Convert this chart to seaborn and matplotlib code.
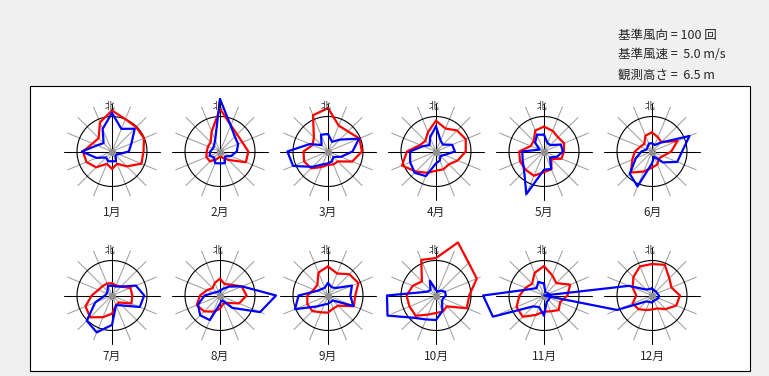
import numpy as np
import pandas as pd
import matplotlib
matplotlib.use("Agg")
import matplotlib.pyplot as plt
from matplotlib.patches import Rectangle
import seaborn as sns

sns.set_theme(style="white")
plt.rcParams['font.family'] = ['Noto Sans CJK JP', 'DejaVu Sans']

months = ["1月", "2月", "3月", "4月", "5月", "6月",
          "7月", "8月", "9月", "10月", "11月", "12月"]
directions = ["N", "NNE", "NE", "ENE", "E", "ESE", "SE", "SSE",
              "S", "SSW", "SW", "WSW", "W", "WNW", "NW", "NNW"]

ref_count = 100   # 基準風向 (回)
ref_speed = 5.0   # 基準風速 (m/s)

# wind direction frequency (回) per month, 16 directions from N clockwise
freq_jan = [117, 100, 98, 99, 90, 91, 60, 38, 50, 38, 64, 79, 83, 60, 54, 90]
freq_feb = [122, 81, 69, 69, 81, 80, 34, 19, 15, 23, 40, 42, 38, 37, 38, 62]
freq_mar = [124, 80, 81, 97, 97, 75, 40, 40, 38, 48, 68, 74, 70, 48, 57, 112]
freq_apr = [88, 71, 85, 92, 85, 67, 52, 55, 55, 66, 81, 105, 83, 49, 43, 60]
freq_may = [71, 64, 57, 62, 57, 54, 30, 55, 59, 75, 74, 74, 71, 41, 42, 65]
freq_jun = [55, 44, 38, 79, 55, 34, 28, 40, 46, 62, 85, 61, 49, 36, 31, 49]
freq_jul = [35, 31, 36, 57, 58, 60, 28, 30, 52, 67, 88, 82, 58, 42, 38, 37]
freq_aug = [48, 35, 44, 67, 76, 59, 30, 25, 38, 50, 64, 72, 57, 40, 30, 39]
freq_sep = [83, 68, 86, 94, 78, 80, 41, 40, 49, 52, 63, 64, 59, 44, 43, 71]
freq_oct = [107, 164, 132, 126, 95, 95, 44, 50, 50, 59, 82, 82, 84, 72, 57, 110]
freq_nov = [84, 62, 50, 81, 67, 50, 59, 49, 46, 60, 86, 85, 70, 57, 48, 70]
freq_dec = [90, 95, 70, 60, 80, 75, 55, 40, 40, 45, 55, 60, 45, 60, 75, 90]

# mean wind speed (m/s) per month
spd_jan = [5.5, 3.5, 4.6, 3.0, 2.4, 1.0, 0.7, 1.5, 1.4, 1.5, 1.2, 2.4, 4.3, 2.3, 1.7, 3.5]
spd_feb = [7.5, 4.0, 3.0, 2.8, 2.4, 1.7, 1.0, 1.8, 1.7, 1.8, 1.2, 1.6, 1.4, 1.1, 1.2, 1.8]
spd_mar = [2.5, 1.5, 2.4, 4.8, 3.5, 2.0, 1.1, 1.5, 1.7, 2.0, 3.1, 5.4, 5.8, 2.8, 1.3, 2.6]
spd_apr = [3.6, 1.7, 1.4, 2.5, 2.7, 1.3, 0.9, 1.4, 1.7, 3.8, 4.3, 4.0, 3.7, 2.0, 1.3, 2.2]
spd_may = [2.4, 1.3, 1.3, 2.6, 2.7, 2.0, 1.2, 2.7, 2.6, 6.6, 4.0, 3.3, 3.1, 0.7, 1.8, 2.6]
spd_jun = [1.2, 1.0, 1.8, 5.8, 4.3, 3.9, 2.2, 0.8, 1.7, 5.4, 4.5, 2.5, 1.5, 0.8, 0.9, 1.2]
spd_jul = [1.4, 1.4, 1.8, 3.7, 4.6, 4.3, 2.0, 1.5, 4.2, 5.7, 5.1, 2.6, 1.0, 0.8, 0.9, 1.5]
spd_aug = [0.7, 1.0, 1.8, 3.4, 8.0, 6.2, 2.5, 0.7, 1.2, 3.8, 4.0, 3.4, 2.2, 1.0, 0.7, 0.6]
spd_sep = [1.8, 1.3, 1.5, 3.7, 3.2, 3.9, 1.0, 1.0, 1.2, 1.4, 2.2, 5.1, 4.2, 1.7, 1.3, 1.2]
spd_oct = [0.8, 0.6, 1.0, 1.4, 1.4, 1.1, 1.2, 2.4, 3.5, 3.7, 4.5, 7.5, 7.0, 1.4, 1.1, 2.3]
spd_nov = [1.7, 0.5, 0.5, 0.7, 1.0, 0.9, 0.9, 1.0, 2.9, 1.8, 2.2, 7.9, 8.7, 2.3, 1.5, 2.1]
spd_dec = [1.0, 0.8, 0.8, 0.8, 1.0, 1.0, 0.8, 0.8, 1.0, 1.0, 1.2, 5.4, 15.4, 3.6, 1.2, 1.0]

freqs = [freq_jan, freq_feb, freq_mar, freq_apr, freq_may, freq_jun,
         freq_jul, freq_aug, freq_sep, freq_oct, freq_nov, freq_dec]
speeds = [spd_jan, spd_feb, spd_mar, spd_apr, spd_may, spd_jun,
          spd_jul, spd_aug, spd_sep, spd_oct, spd_nov, spd_dec]

W, H = 769, 376
fig = plt.figure(figsize=(W / 100, H / 100), dpi=100)
fig.patch.set_facecolor("#f0f0f0")

# white panel with border
fig.patches.append(Rectangle((30 / W, 1 - 371 / H), 720 / W, 285 / H,
                             transform=fig.transFigure, facecolor="white",
                             edgecolor="black", linewidth=0.8, zorder=-10))

# header text
for i, t in enumerate(["基準風向 = 100 回", "基準風速 =  5.0 m/s", "観測高さ =  6.5 m"]):
    fig.text(618 / W, 1 - (35 + 20 * i) / H, t, fontsize=9, ha="left", va="center")

R_PX = 35.0      # circle radius px
HALF = 50.0      # half axes size px
SPOKE = 48.0 / R_PX
xcs = [112, 220, 328, 436, 544, 652]
ycs = [151.5, 295.5]
label_y = [212.5, 356.5]

theta16 = np.deg2rad(np.arange(16) * 22.5)

for m in range(12):
    row, col = divmod(m, 6)
    cx, cy = xcs[col], ycs[row]
    ax = fig.add_axes([(cx - HALF) / W, 1 - (cy + HALF) / H, 2 * HALF / W, 2 * HALF / H],
                      projection="polar")
    ax.set_theta_zero_location("N")
    ax.set_theta_direction(-1)
    ax.set_axis_off()
    ax.set_zorder(1)

    # spokes
    for k, th in enumerate(theta16):
        black = (k % 4 == 0)
        ax.plot([th, th], [0, SPOKE], color="black" if black else "#a0a0a0",
                lw=0.75, zorder=1 if black else 0.5, clip_on=False)
    tc = np.linspace(0, 2 * np.pi, 200)
    ax.plot(tc, np.ones_like(tc), color="black", lw=0.8, zorder=1, clip_on=False)

    df = pd.DataFrame({
        "theta": np.append(theta16, theta16[0] + 2 * np.pi),
        "freq": np.append(freqs[m], freqs[m][0]) / ref_count,
        "speed": np.append(speeds[m], speeds[m][0]) / ref_speed,
    })
    sns.lineplot(data=df, x="theta", y="freq", ax=ax, sort=False, estimator=None,
                 color="#ff0000", lw=1.6, zorder=3)
    sns.lineplot(data=df, x="theta", y="speed", ax=ax, sort=False, estimator=None,
                 color="#0000ff", lw=1.6, zorder=4)
    for ln in ax.lines:
        ln.set_clip_on(False)
    ax.scatter([0], [0], s=18, color="#909090", zorder=5, clip_on=False)
    ax.set_ylim(0, HALF / R_PX)
    ax.set_xlabel("")
    ax.set_ylabel("")

    fig.text((cx - 2) / W, 1 - (cy - 45) / H, "北", fontsize=7, ha="center", va="center")
    fig.text(cx / W, 1 - label_y[row] / H, months[m], fontsize=8.5, ha="center", va="center")

fig.savefig("out.png", dpi=100, facecolor=fig.get_facecolor())
